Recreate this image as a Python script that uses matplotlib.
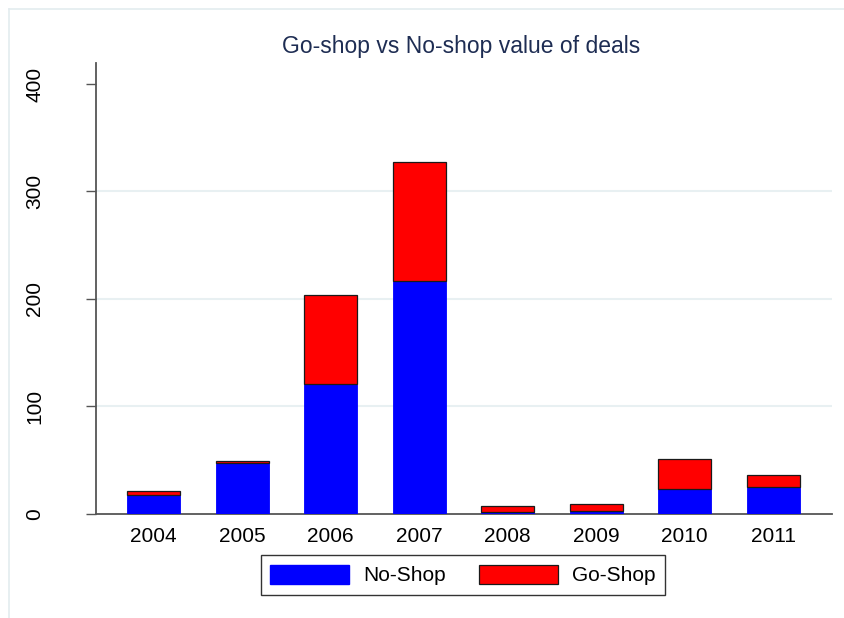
import matplotlib
matplotlib.use("Agg")
import matplotlib.pyplot as plt
from matplotlib.patches import Patch
from matplotlib.lines import Line2D
import numpy as np

plt.rcParams['font.family'] = ['Liberation Sans', 'DejaVu Sans']

years = ["2004", "2005", "2006", "2007", "2008", "2009", "2010", "2011"]
no_shop = [18.1, 47.0, 120.7, 216.7, 2.0, 3.1, 23.0, 24.8]
go_shop = [3.0, 2.3, 83.0, 110.7, 5.7, 6.2, 27.9, 11.5]
y_ticks = [0, 100, 200, 300, 400]
title = "Go-shop vs No-shop value of deals"

W, H = 844, 618
fig = plt.figure(figsize=(W / 100, H / 100), dpi=100)
fig.patch.set_facecolor('white')

# outer light frame (top and left edges only visible)
fig.lines.append(Line2D([9 / W, 1.0], [1 - 9 / H, 1 - 9 / H], transform=fig.transFigure,
                        color='#e3ecef', lw=1.2))
fig.lines.append(Line2D([9 / W, 9 / W], [0.0, 1 - 9 / H], transform=fig.transFigure,
                        color='#e3ecef', lw=1.2))

ax = fig.add_axes([95.7 / W, 1 - 514 / H, (832.3 - 95.7) / W, (514 - 63) / H])
x = np.arange(len(years))
ax.bar(x, no_shop, width=0.6, color='#0000ff', edgecolor='#0000ff', linewidth=0.6, zorder=3)
ax.bar(x, go_shop, width=0.6, bottom=no_shop, color='#ff0000', edgecolor='#1a1a1a',
       linewidth=0.9, zorder=3)

ax.set_xlim(-0.655, 7.667)
ax.set_ylim(0, 419.5)
ax.set_xticks(x)
ax.set_xticklabels(years, fontsize=15)
ax.set_yticks(y_ticks)
ax.set_yticklabels([str(v) for v in y_ticks], fontsize=15, rotation=90, va='center')
ax.tick_params(axis='x', length=0, pad=9)
ax.tick_params(axis='y', length=7.2, width=1.0, color='#555555', pad=30)

for v in [100, 200, 300]:
    ax.axhline(v, color='#e8f0f2', lw=1.5, zorder=1)

for s in ['top', 'right']:
    ax.spines[s].set_visible(False)
for s in ['left', 'bottom']:
    ax.spines[s].set_color('#555555')
    ax.spines[s].set_linewidth(1.3)

fig.text(461 / W, 1 - 47 / H, title, ha='center', va='center', fontsize=16.5, color='#1e2d53')

handles = [Patch(facecolor='#0000ff', edgecolor='#0000ff', label='No-Shop'),
           Patch(facecolor='#ff0000', edgecolor='#1a1a1a', linewidth=0.9, label='Go-Shop')]
leg = fig.legend(handles=handles, loc='center', bbox_to_anchor=(463 / W, 1 - 575 / H), ncol=2,
                 fontsize=15, frameon=True, fancybox=False, handlelength=3.8, handleheight=1.05,
                 handletextpad=0.67, columnspacing=1.6, borderpad=0.45, borderaxespad=0)
leg.get_frame().set_edgecolor('black')
leg.get_frame().set_linewidth(1.0)

fig.savefig('out.png', dpi=100, facecolor='white')
